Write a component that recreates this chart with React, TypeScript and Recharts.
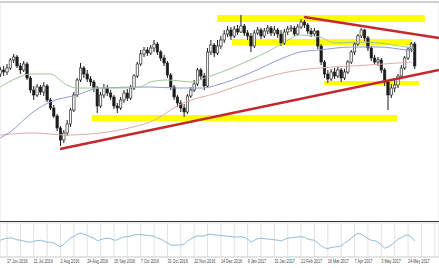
import { ComposedChart, LineChart, Bar, Line, XAxis, YAxis, CartesianGrid, ReferenceArea, ReferenceLine } from 'recharts';

// candle index of the first bar (one bar = two trading days)
const firstIdx = -2;

const opens = [
  148, 152, 150, 154, 162, 165, 156, 152, 158, 144,
  132, 127, 135, 130, 136, 122, 114, 106, 94, 82,
  89, 98, 112, 127, 142, 154, 148, 143, 140, 134,
  116, 127, 134, 129, 125, 116, 114, 122, 129, 124,
  134, 146, 158, 168, 172, 169, 174, 178, 170, 164,
  159, 147, 135, 125, 119, 114, 110, 126, 132, 138,
  152, 146, 136, 170, 177, 169, 176, 182, 188, 192,
  186, 193, 190, 196, 189, 186, 176, 189, 192, 186,
  191, 194, 189, 192, 188, 179, 190, 193, 194, 188,
  195, 200, 197, 191, 188, 191, 176, 160, 148, 143,
  150, 146, 152, 144, 150, 160, 170, 178, 186, 192,
  184, 174, 164, 160, 162, 152, 140, 127, 134, 137,
  146, 154, 164, 173, 178,
];
const closes = [
  152, 150, 154, 162, 165, 156, 152, 158, 144, 132,
  127, 135, 130, 136, 122, 114, 106, 94, 82, 89,
  98, 112, 127, 142, 154, 148, 143, 140, 134, 116,
  127, 134, 129, 125, 116, 114, 122, 129, 124, 134,
  146, 158, 168, 172, 169, 174, 178, 170, 164, 159,
  147, 135, 125, 119, 114, 110, 126, 132, 138, 152,
  146, 136, 170, 177, 169, 176, 182, 188, 192, 186,
  193, 190, 196, 189, 186, 176, 189, 192, 186, 191,
  194, 189, 192, 188, 179, 190, 193, 194, 188, 195,
  200, 197, 191, 188, 191, 176, 160, 148, 143, 150,
  146, 152, 144, 150, 160, 170, 178, 186, 192, 184,
  174, 164, 160, 162, 152, 140, 127, 134, 137, 146,
  154, 164, 173, 178, 156,
];
const highs = [
  155, 156, 158, 164, 168, 167, 159, 161, 160, 146,
  136, 138, 137, 140, 138, 124, 117, 108, 96, 92,
  102, 114, 130, 144, 159, 156, 152, 146, 142, 136,
  130, 138, 137, 132, 127, 119, 125, 132, 133, 137,
  148, 160, 172, 175, 175, 177, 182, 180, 172, 167,
  161, 149, 137, 127, 122, 118, 128, 135, 142, 154,
  154, 149, 174, 182, 179, 182, 186, 192, 196, 195,
  196, 197, 207, 198, 192, 189, 192, 195, 194, 194,
  197, 196, 196, 194, 192, 193, 196, 197, 196, 198,
  203, 202, 199, 194, 194, 192, 178, 162, 152, 153,
  154, 155, 154, 153, 162, 172, 180, 188, 194, 193,
  186, 176, 167, 165, 164, 154, 142, 138, 142, 148,
  157, 166, 175, 180, 180,
];
const lows = [
  145, 146, 147, 152, 159, 154, 148, 150, 142, 129,
  122, 125, 127, 126, 120, 112, 104, 91, 76, 79,
  86, 95, 110, 125, 140, 144, 140, 136, 130, 109,
  114, 124, 126, 122, 113, 109, 112, 119, 121, 122,
  132, 144, 156, 165, 166, 167, 170, 167, 161, 156,
  144, 132, 122, 115, 110, 105, 108, 124, 130, 136,
  142, 132, 134, 167, 165, 167, 173, 179, 185, 182,
  184, 187, 189, 186, 182, 170, 174, 187, 183, 184,
  188, 186, 186, 184, 176, 177, 187, 190, 186, 187,
  193, 194, 188, 185, 186, 173, 157, 144, 139, 141,
  143, 144, 140, 142, 148, 158, 167, 176, 184, 181,
  171, 161, 157, 156, 149, 136, 112, 124, 130, 134,
  143, 152, 162, 170, 153,
];
const rsi = [
  52, 55, 57, 58, 56, 53, 52, 50, 48, 47,
  49, 51, 52, 50, 47, 47, 45, 40, 35, 42,
  50, 57, 62, 67, 70, 67, 64, 60, 57, 51,
  53, 56, 57, 56, 52, 53, 57, 60, 61, 62,
  65, 66, 66, 65, 64, 63, 62, 57, 55, 50,
  45, 40, 39, 40, 40, 42, 50, 55, 60, 63,
  62, 63, 66, 67, 65, 65, 64, 63, 62, 61,
  60, 60, 61, 59, 55, 47, 52, 56, 57, 56,
  55, 54, 53, 52, 50, 54, 57, 58, 59, 60,
  61, 59, 55, 53, 52, 45, 38, 33, 31, 34,
  35, 36, 38, 45, 50, 57, 64, 69, 67, 62,
  56, 52, 51, 47, 40, 32, 35, 40, 47, 54,
  59, 63, 65, 60, 50,
];

// moving averages (bar index, level)
const maGreen = [
  { x: -2, v: 135 }, { x: 3, v: 144 }, { x: 6.9, v: 148 }, { x: 12.9, v: 148 }, { x: 17.9, v: 137 },
  { x: 20.9, v: 134 }, { x: 25.7, v: 134 }, { x: 33.8, v: 134 }, { x: 39.8, v: 135 }, { x: 42.8, v: 140 },
  { x: 47.9, v: 142 }, { x: 55.6, v: 140 }, { x: 59.2, v: 144 }, { x: 65.8, v: 152 }, { x: 72.7, v: 162 },
  { x: 77.8, v: 170 }, { x: 82.6, v: 179 }, { x: 87.7, v: 187 }, { x: 93.4, v: 185 }, { x: 98.4, v: 179 },
  { x: 105.3, v: 180 }, { x: 111.3, v: 179 }, { x: 119.4, v: 175 }, { x: 121.8, v: 174 },
];
const maBlue = [
  { x: -2, v: 84 }, { x: 0.9, v: 90 }, { x: 7.8, v: 110 }, { x: 12.9, v: 120 }, { x: 20.9, v: 127 },
  { x: 27.8, v: 134 }, { x: 42.8, v: 135 }, { x: 50.9, v: 134 }, { x: 58.6, v: 134 }, { x: 62.8, v: 137 },
  { x: 72.7, v: 149 }, { x: 82.6, v: 164 }, { x: 87.7, v: 170 }, { x: 93.4, v: 172 }, { x: 103.2, v: 175 },
  { x: 111.3, v: 175 }, { x: 119.4, v: 172 }, { x: 121.8, v: 171 },
];
const maPink = [
  { x: -2, v: 87 }, { x: 7.8, v: 89 }, { x: 17.9, v: 87 }, { x: 27.8, v: 89 }, { x: 37.7, v: 95 },
  { x: 42.8, v: 100 }, { x: 52.7, v: 119 }, { x: 62.8, v: 129 }, { x: 72.7, v: 140 }, { x: 82.6, v: 149 },
  { x: 87.7, v: 152 }, { x: 93.4, v: 154 }, { x: 108.3, v: 157 }, { x: 121.2, v: 160 },
];

// yellow support / resistance zones
const zones = [
  { x1: 62.9, x2: 125.0, y1: 200, y2: 207 },
  { x1: 67.3, x2: 121.2, y1: 177, y2: 183 },
  { x1: 94.8, x2: 123.3, y1: 137, y2: 141 },
  { x1: 25.4, x2: 116.7, y1: 101, y2: 107 },
];
// red trend lines
const trendUpper = [{ x: 88.9, y: 205 }, { x: 129.26, y: 184 }];
const trendLower = [{ x: 15.85, y: 73 }, { x: 129.26, y: 152 }];

const tickIdx = [0, 8, 16, 24, 32, 40, 48, 56, 64, 72, 80, 88, 96, 104, 112, 120];
const tickLabels = [
  '17 Jun 2016', '11 Jul 2016', '2 Aug 2016', '24 Aug 2016', '15 Sep 2016', '7 Oct 2016',
  '31 Oct 2016', '22 Nov 2016', '14 Dec 2016', '9 Jan 2017', '31 Jan 2017', '22 Feb 2017',
  '16 Mar 2017', '7 Apr 2017', '3 May 2017', '24 May 2017',
];
const gridIdx = [0, 4, 8, 12, 16, 20, 24, 28, 32, 36, 40, 44, 48, 52, 56, 60, 64, 68, 72, 76, 80, 84, 88, 92, 96, 100, 104, 108, 112, 116, 120, 124, 128];
const priceGrid = [14, 28, 42, 56, 70, 84, 98, 112, 126, 140, 154, 168, 182, 196, 210];
const xDomain = [-2.1, 129.26];

const candles = opens.map((o, k) => ({
  x: firstIdx + k,
  o,
  c: closes[k],
  h: highs[k],
  l: lows[k],
  range: [lows[k], highs[k]],
  rsi: rsi[k],
}));

function Candle(props: any) {
  const { x, y, width, height, payload } = props;
  if (!payload) return null;
  const top = Math.min(y, y + height);
  const h = Math.abs(height);
  const k = h / (payload.h - payload.l || 1);
  const cx = x + width / 2;
  const bodyTop = top + (payload.h - Math.max(payload.o, payload.c)) * k;
  const bodyH = Math.max(1, Math.abs(payload.o - payload.c) * k);
  const up = payload.c >= payload.o;
  return (
    <g>
      <line x1={cx} x2={cx} y1={top} y2={top + h} stroke="#1c1c1c" strokeWidth={1} />
      <rect x={cx - 1.2} y={bodyTop} width={2.4} height={bodyH} fill={up ? '#f4f4f4' : '#1c1c1c'} stroke="#1c1c1c" strokeWidth={0.6} />
    </g>
  );
}

// date labels are left-aligned on every second grid line, in a narrow face
function DateTick(props: any) {
  const { x, y, payload } = props;
  const i = tickIdx.indexOf(payload.value);
  if (i < 0) return null;
  return (
    <text
      transform={`translate(${x},${y + 6}) scale(0.72,1)`}
      fontSize={5.2}
      fill="#444"
      textAnchor="start"
      fontFamily="Liberation Sans, Arial, sans-serif"
    >
      {tickLabels[i]}
    </text>
  );
}

export default function App() {
  return (
    <div style={{ position: 'absolute', left: 0, top: 0, width: 439, height: 268, background: '#fff', overflow: 'hidden' }}>
      <ComposedChart width={439} height={222} data={candles} margin={{ top: 2, right: 0, bottom: 0, left: 0 }}>
        <CartesianGrid stroke="#e2e2e2" strokeWidth={1} />
        <XAxis dataKey="x" type="number" domain={xDomain} ticks={gridIdx} allowDataOverflow tick={false} tickLine={false} axisLine={false} height={0} />
        <YAxis type="number" domain={[0, 220]} ticks={priceGrid} allowDataOverflow tick={false} tickLine={false} axisLine={false} width={0} />
        {zones.map((z, i) => (
          <ReferenceArea key={i} x1={z.x1} x2={z.x2} y1={z.y1} y2={z.y2} fill="#ffff00" fillOpacity={1} stroke="none" ifOverflow="visible" />
        ))}
        <Line data={maPink} dataKey="v" type="monotone" stroke="#e3a8a8" strokeWidth={1} dot={false} isAnimationActive={false} />
        <Line data={maBlue} dataKey="v" type="monotone" stroke="#8c9ad4" strokeWidth={1} dot={false} isAnimationActive={false} />
        <Line data={maGreen} dataKey="v" type="monotone" stroke="#9cc698" strokeWidth={1} dot={false} isAnimationActive={false} />
        <Bar dataKey="range" barSize={3} shape={<Candle />} isAnimationActive={false} />
        <ReferenceLine segment={trendUpper} stroke="#c5282c" strokeWidth={2.4} ifOverflow="visible" />
        <ReferenceLine segment={trendLower} stroke="#c5282c" strokeWidth={2.4} ifOverflow="visible" />
        <ReferenceLine y={220} stroke="#b0b0b0" strokeWidth={1} />
        <ReferenceLine y={0} stroke="#333" strokeWidth={2} />
      </ComposedChart>
      <LineChart width={439} height={46} data={candles} margin={{ top: 1, right: 0, bottom: 0, left: 0 }}>
        <CartesianGrid stroke="#e2e2e2" strokeWidth={1} />
        <XAxis dataKey="x" type="number" domain={xDomain} ticks={gridIdx} allowDataOverflow tick={<DateTick />} tickLine={false} tickSize={0} tickMargin={0} axisLine={{ stroke: '#d6d6d6' }} height={11} interval={0} />
        <YAxis type="number" domain={[10, 95]} ticks={[30, 70]} allowDataOverflow tick={false} tickLine={false} axisLine={false} width={0} />
        <Line dataKey="rsi" type="linear" stroke="#8dbbe0" strokeWidth={1} dot={false} isAnimationActive={false} />
      </LineChart>
    </div>
  );
}
